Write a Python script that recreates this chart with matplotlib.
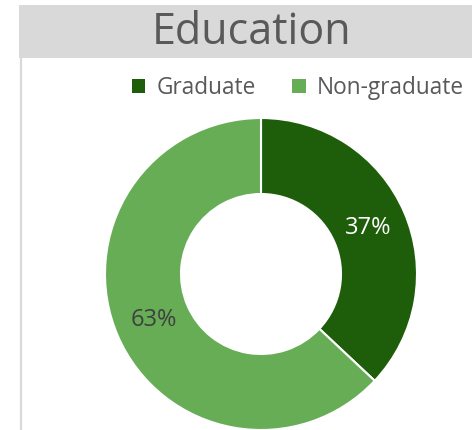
import matplotlib.pyplot as plt
from matplotlib.patches import Rectangle
from matplotlib.lines import Line2D

plt.rcParams['font.family'] = ['Open Sans', 'DejaVu Sans']

# data
labels = ['Graduate', 'Non-graduate']
shares = [37, 63]
colors = ['#1E5E0B', '#66AD56']
label_colors = ['white', '#404040']

W, H = 472, 430
fig = plt.figure(figsize=(W / 100, H / 100), dpi=100)

# title band + left border
fig.patches.append(Rectangle((19 / W, 1 - 58 / H), 1 - 19 / W, 53 / H,
                             transform=fig.transFigure, facecolor='#D9D9D9',
                             edgecolor='none', zorder=0))
fig.lines.append(Line2D([20.5 / W, 20.5 / W], [0, 1 - 58 / H],
                        transform=fig.transFigure, color='#D9D9D9', lw=1.6))
fig.text(252 / W, 1 - 33 / H, 'Education', ha='center', va='center',
         fontsize=31, color='#595959')

# donut
cx, cy, r = 261, 274, 156
ax = fig.add_axes([(cx - r) / W, (H - cy - r) / H, 2 * r / W, 2 * r / H])
wedges, _, autotexts = ax.pie(shares, colors=colors, startangle=90, counterclock=False,
                              radius=1, autopct='%d%%', pctdistance=0.75,
                              wedgeprops=dict(width=1 - 80 / 156, edgecolor='white', linewidth=1.5),
                              textprops=dict(fontsize=17))
for t, c in zip(autotexts, label_colors):
    t.set_color(c)
ax.set_xlim(-1, 1)
ax.set_ylim(-1, 1)
ax.set_aspect('equal')
ax.axis('off')

# legend
leg = fig.legend(wedges, labels, loc='center', bbox_to_anchor=(298 / W, 1 - 88 / H),
                 ncol=2, frameon=False, fontsize=16.3, handlelength=0.6, handleheight=0.6,
                 handletextpad=0.5, columnspacing=1.6, labelcolor='#595959')
for h in leg.legend_handles:
    h.set_edgecolor('none')

fig.savefig('out.png', dpi=100)
